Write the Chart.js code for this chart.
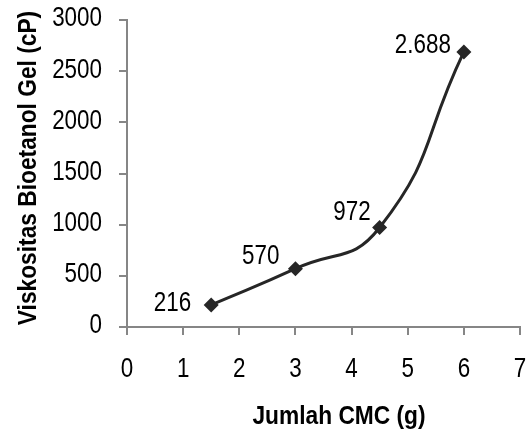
<!DOCTYPE html>
<html>
<head>
<meta charset="utf-8">
<script src="https://cdn.jsdelivr.net/npm/chart.js@4/dist/chart.umd.min.js"></script>
<style>
  html, body { margin: 0; padding: 0; background: #ffffff; }
  #wrap { width: 532px; height: 434px; position: relative; }
</style>
</head>
<body>
<div id="wrap"><canvas id="c" width="532" height="434"></canvas></div>
<script>
// CMC amount (g) and the resulting gel viscosity (cP)
const cmcGrams = [1.5, 3, 4.5, 6];
const viscosity = [216, 570, 972, 2688];

// axis ticks
const xTicks = [0, 1, 2, 3, 4, 5, 6, 7];
const yTicks = [0, 500, 1000, 1500, 2000, 2500, 3000];

// axis titles
const xTitle = 'Jumlah CMC (g)';
const yTitle = 'Viskositas Bioetanol Gel (cP)';

// placement of each value label relative to its marker (px)
const labelGap = [20, 16, 9, 13];
const labelLift = [1, 12, 15, 6];

const axisGray = '#868686';
const ink = '#262626';
const FAMILY = "'Liberation Sans', Arial, sans-serif";
const TEXT_FONT = '27px ' + FAMILY;       // ticks and value labels
const TITLE_FONT = 'bold 25px ' + FAMILY; // axis titles
const TEXT_SQUEEZE = 0.83;                // narrow face look
const TITLE_SQUEEZE = 0.91;

// thousands separator written the Indonesian way: 2688 -> 2.688
function fmt(v) {
  return String(v).replace(/\B(?=(\d{3})+(?!\d))/g, '.');
}

// draw horizontally condensed text, optionally rotated
function squeezedText(ctx, text, x, y, font, squeeze, align, angle) {
  ctx.save();
  ctx.translate(x, y);
  if (angle) ctx.rotate(angle);
  ctx.scale(squeeze, 1);
  ctx.font = font;
  ctx.fillStyle = '#000';
  ctx.textAlign = align;
  ctx.textBaseline = 'middle';
  ctx.fillText(text, 0, 0);
  ctx.restore();
}

const chartText = {
  id: 'chartText',
  afterDraw(chart) {
    const ctx = chart.ctx;
    const xs = chart.scales.x, ys = chart.scales.y;
    const area = chart.chartArea;

    // tick labels
    yTicks.forEach(v => {
      squeezedText(ctx, String(v), 102, ys.getPixelForValue(v) - 1, TEXT_FONT, TEXT_SQUEEZE, 'right');
    });
    xTicks.forEach(v => {
      squeezedText(ctx, String(v), xs.getPixelForValue(v), area.bottom + 43, TEXT_FONT, TEXT_SQUEEZE, 'center');
    });

    // value labels beside the markers
    chart.getDatasetMeta(0).data.forEach((pt, i) => {
      squeezedText(ctx, fmt(viscosity[i]), pt.x - labelGap[i], pt.y - labelLift[i], TEXT_FONT, TEXT_SQUEEZE, 'right');
    });

    // axis titles
    squeezedText(ctx, xTitle, 339, 417, TITLE_FONT, TITLE_SQUEEZE, 'center');
    squeezedText(ctx, yTitle, 29, 168, TITLE_FONT, TITLE_SQUEEZE, 'center', -Math.PI / 2);
  }
};

new Chart(document.getElementById('c'), {
  type: 'scatter',
  data: {
    datasets: [{
      data: cmcGrams.map((x, i) => ({ x: x, y: viscosity[i] })),
      showLine: true,
      tension: 0.5,
      borderColor: ink,
      borderWidth: 3,
      backgroundColor: ink,
      pointStyle: 'rectRot',
      pointRadius: 7.5,
      pointHoverRadius: 7.5,
      pointBorderWidth: 0,
      clip: false
    }]
  },
  options: {
    responsive: false,
    animation: false,
    events: [],
    layout: { padding: { top: 20, right: 12, left: 0, bottom: 0 } },
    plugins: { legend: { display: false }, tooltip: { enabled: false } },
    scales: {
      x: {
        type: 'linear',
        min: 0, max: 7,
        afterBuildTicks: s => { s.ticks = xTicks.map(v => ({ value: v })); },
        afterFit: s => { s.height = 107; },
        grid: { drawOnChartArea: false, drawTicks: true, tickLength: 8, color: axisGray, lineWidth: 2 },
        border: { display: true, color: axisGray, width: 2 },
        ticks: { display: false }
      },
      y: {
        type: 'linear',
        min: 0, max: 3000,
        afterBuildTicks: s => { s.ticks = yTicks.map(v => ({ value: v })); },
        afterFit: s => { s.width = 127; },
        grid: { drawOnChartArea: false, drawTicks: true, tickLength: 8, color: axisGray, lineWidth: 2 },
        border: { display: true, color: axisGray, width: 2 },
        ticks: { display: false }
      }
    }
  },
  plugins: [chartText]
});
</script>
</body>
</html>
